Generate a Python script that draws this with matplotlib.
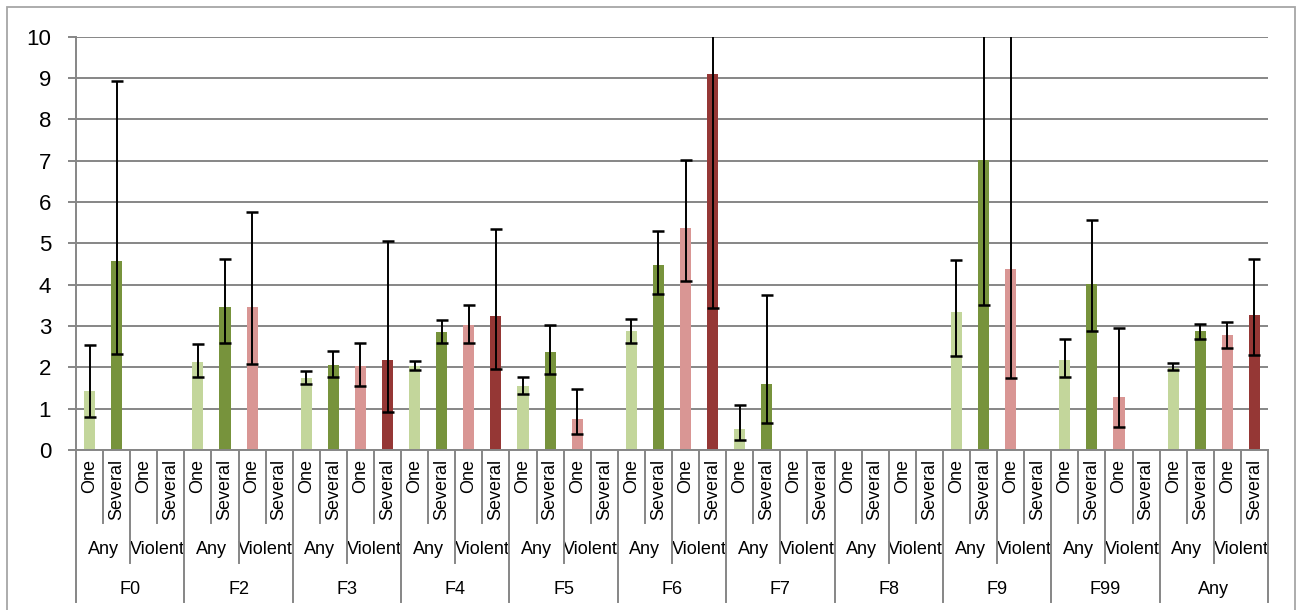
import numpy as np
import matplotlib
matplotlib.use("Agg")
import matplotlib.pyplot as plt
from matplotlib import transforms
from matplotlib.lines import Line2D
from matplotlib.patches import Rectangle

nan = np.nan

groups = ['F0', 'F2', 'F3', 'F4', 'F5', 'F6', 'F7', 'F8', 'F9', 'F99', 'Any']
subgroups = ['Any', 'Violent']
counts = ['One', 'Several']

# Ratio estimates with lower / upper confidence limits per diagnosis group
any_one = [1.43, 2.13, 1.73, 2.03, 1.55, 2.88, 0.51, nan, 3.34, 2.18, 1.99]
any_one_lo = [0.80, 1.76, 1.60, 1.93, 1.36, 2.59, 0.23, nan, 2.27, 1.77, 1.93]
any_one_hi = [2.55, 2.57, 1.90, 2.15, 1.77, 3.17, 1.08, nan, 4.59, 2.69, 2.10]

any_several = [4.57, 3.46, 2.06, 2.85, 2.37, 4.48, 1.60, nan, 7.02, 4.02, 2.88]
any_several_lo = [2.33, 2.58, 1.77, 2.60, 1.85, 3.77, 0.66, nan, 3.51, 2.89, 2.69]
any_several_hi = [8.93, 4.63, 2.39, 3.15, 3.02, 5.30, 3.74, nan, 14.0, 5.56, 3.06]

violent_one = [nan, 3.46, 2.03, 3.02, 0.75, 5.37, nan, nan, 4.38, 1.28, 2.78]
violent_one_lo = [nan, 2.07, 1.56, 2.59, 0.38, 4.10, nan, nan, 1.75, 0.56, 2.48]
violent_one_hi = [nan, 5.76, 2.58, 3.50, 1.48, 7.02, nan, nan, 11.0, 2.96, 3.09]

violent_several = [nan, nan, 2.18, 3.24, nan, 9.10, nan, nan, nan, nan, 3.27]
violent_several_lo = [nan, nan, 0.93, 1.95, nan, 3.44, nan, nan, nan, nan, 2.31]
violent_several_hi = [nan, nan, 5.06, 5.34, nan, 24.0, nan, nan, nan, nan, 4.62]

series = [
    (any_one, any_one_lo, any_one_hi, '#C3D69B'),
    (any_several, any_several_lo, any_several_hi, '#77933C'),
    (violent_one, violent_one_lo, violent_one_hi, '#D99694'),
    (violent_several, violent_several_lo, violent_several_hi, '#953735'),
]

W, H = 1297, 610
DPI = 100
plt.rcParams['font.family'] = ['Liberation Sans', 'DejaVu Sans']

fig = plt.figure(figsize=(W / DPI, H / DPI), dpi=DPI)
ax_left, ax_right, ax_top, ax_bottom = 76, 1268, 36.7, 450
ax = fig.add_axes([ax_left / W, 1 - ax_bottom / H,
                   (ax_right - ax_left) / W, (ax_bottom - ax_top) / H])

grid_col = '#868686'
n_cat = len(groups) * 4
ax.set_xlim(0, n_cat)
ax.set_ylim(0, 10)
ax.set_yticks(range(0, 11))
ax.set_axisbelow(True)
ax.yaxis.grid(True, color=grid_col, linewidth=1.4)
ax.set_xticks([])
for s in ('top', 'right'):
    ax.spines[s].set_visible(False)
for s in ('left', 'bottom'):
    ax.spines[s].set_color(grid_col)
    ax.spines[s].set_linewidth(1.4)
ax.tick_params(axis='y', length=6, width=1.4, color=grid_col,
               labelsize=16, pad=12)

for k, (vals, lo, hi, col) in enumerate(series):
    vals = np.array(vals, float)
    lo = np.array(lo, float)
    hi = np.array(hi, float)
    m = ~np.isnan(vals)
    x = np.arange(len(groups))[m] * 4 + k + 0.5
    ax.bar(x, vals[m], width=0.41, color=col, zorder=2)
    ax.errorbar(x, vals[m], yerr=[vals[m] - lo[m], hi[m] - vals[m]],
                fmt='none', ecolor='black', elinewidth=1.4,
                capsize=4.2, capthick=1.8, zorder=3)

# Multi-level category axis
tr = transforms.blended_transform_factory(ax.transData, fig.transFigure)


def fy(py):
    return 1 - py / H


lab_size = 13
for g, gname in enumerate(groups):
    for s, sname in enumerate(subgroups):
        for c, cname in enumerate(counts):
            i = g * 4 + s * 2 + c
            ax.text(i + 0.5, fy(459), cname, rotation=90, ha='center',
                    va='top', fontsize=lab_size, transform=tr)
        ax.text(g * 4 + s * 2 + 1, fy(550), sname, ha='center',
                va='center', fontsize=lab_size, transform=tr)
    ax.text(g * 4 + 2, fy(589), gname, ha='center', va='center',
            fontsize=lab_size, transform=tr)

for b in range(n_cat + 1):
    if b % 4 == 0:
        y_end = 602
    elif b % 2 == 0:
        y_end = 563
    else:
        y_end = 523
    fig.add_artist(Line2D([b, b], [fy(ax_bottom), fy(y_end)], transform=tr,
                          color=grid_col, linewidth=1.4))

# Chart area frame
fig.add_artist(Rectangle((7 / W, -0.02), (1295 - 7) / W, 1 - 7 / H + 0.02,
                         transform=fig.transFigure, fill=False,
                         edgecolor='#A6A6A6', linewidth=1.3))

fig.savefig('out.png', dpi=DPI)
